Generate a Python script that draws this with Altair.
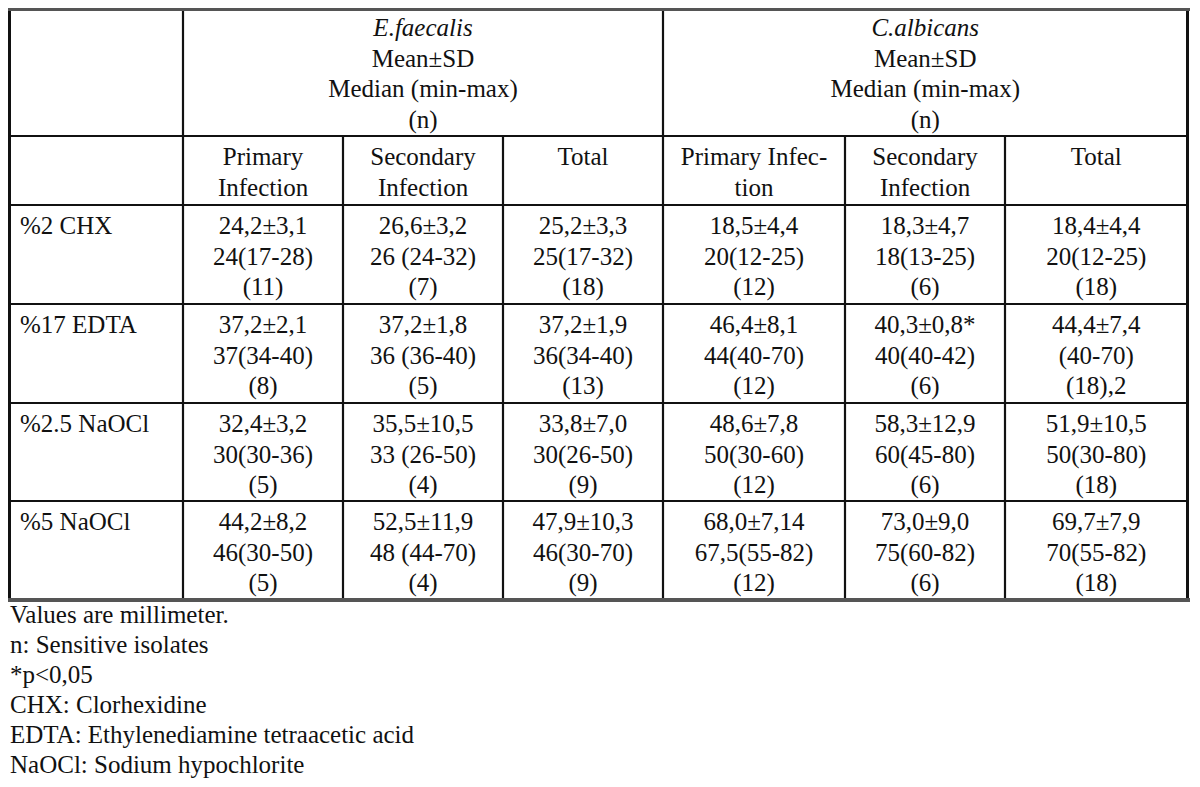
import altair as alt
import pandas as pd

# ---------------- data ----------------
species = ["E.faecalis", "C.albicans"]
header_stats = ["Mean±SD", "Median (min-max)", "(n)"]
sub_headers = [
    ["Primary", "Infection"],
    ["Secondary", "Infection"],
    ["Total"],
    ["Primary Infec-", "tion"],
    ["Secondary", "Infection"],
    ["Total"],
]
treatments = ["%2 CHX", "%17 EDTA", "%2.5 NaOCl", "%5 NaOCl"]
mean_sd = [
    ["24,2±3,1", "26,6±3,2", "25,2±3,3", "18,5±4,4", "18,3±4,7", "18,4±4,4"],
    ["37,2±2,1", "37,2±1,8", "37,2±1,9", "46,4±8,1", "40,3±0,8*", "44,4±7,4"],
    ["32,4±3,2", "35,5±10,5", "33,8±7,0", "48,6±7,8", "58,3±12,9", "51,9±10,5"],
    ["44,2±8,2", "52,5±11,9", "47,9±10,3", "68,0±7,14", "73,0±9,0", "69,7±7,9"],
]
median_range = [
    ["24(17-28)", "26 (24-32)", "25(17-32)", "20(12-25)", "18(13-25)", "20(12-25)"],
    ["37(34-40)", "36 (36-40)", "36(34-40)", "44(40-70)", "40(40-42)", "(40-70)"],
    ["30(30-36)", "33 (26-50)", "30(26-50)", "50(30-60)", "60(45-80)", "50(30-80)"],
    ["46(30-50)", "48 (44-70)", "46(30-70)", "67,5(55-82)", "75(60-82)", "70(55-82)"],
]
n_values = [
    ["(11)", "(7)", "(18)", "(12)", "(6)", "(18)"],
    ["(8)", "(5)", "(13)", "(12)", "(6)", "(18),2"],
    ["(5)", "(4)", "(9)", "(12)", "(6)", "(18)"],
    ["(5)", "(4)", "(9)", "(12)", "(6)", "(18)"],
]
footnotes = [
    "Values are millimeter.",
    "\u00a0n: Sensitive isolates",
    "*p<0,05",
    "CHX: Clorhexidine",
    "EDTA: Ethylenediamine tetraacetic acid",
    "NaOCl: Sodium hypochlorite",
]

# ---------------- layout (page pixel coordinates) ----------------
W, H = 1184, 771
X0, Y0 = 8, 8
col_edges = [9.5, 183, 343, 503, 663, 845, 1005, 1187.5]
top_y, head_y, sub_y = 7, 136, 205
row_tops = [205, 304, 403, 501]
bottom_y = 600
LH = 30.5
FIRST = 29
FONT = "Liberation Serif"
FS = 25
INK = "#111111"
GRAY = "#555555"

xs = alt.Scale(domain=[X0, X0 + W], nice=False, zero=False)
ys = alt.Scale(domain=[Y0 + H, Y0], nice=False, zero=False)

# ---------------- lines ----------------
lines = []
def seg(x1, y1, x2, y2, color, w):
    lines.append(dict(x=x1, y=y1, x2=x2, y2=y2, c=color, w=w))

for yy in [head_y, sub_y] + row_tops[1:]:
    seg(col_edges[0], yy, col_edges[-1], yy, INK, 2.2)
for xx in [col_edges[1], col_edges[4]]:
    seg(xx, top_y, xx, bottom_y, INK, 2.2)
for xx in [col_edges[2], col_edges[3], col_edges[5], col_edges[6]]:
    seg(xx, head_y, xx, bottom_y, INK, 2.2)
seg(col_edges[0], top_y, col_edges[0], bottom_y + 2, INK, 3)
seg(col_edges[-1], top_y, col_edges[-1], bottom_y + 2, INK, 3)
seg(8, 9.5, 1190, 9.5, GRAY, 3)
seg(8, bottom_y, 1190, bottom_y, GRAY, 4)
lines_df = pd.DataFrame(lines)

rules = alt.Chart(lines_df).mark_rule(strokeCap="butt").encode(
    x=alt.X("x:Q", scale=xs, axis=None),
    x2="x2:Q",
    y=alt.Y("y:Q", scale=ys, axis=None),
    y2="y2:Q",
    color=alt.Color("c:N", scale=None),
    strokeWidth=alt.StrokeWidth("w:Q", scale=None),
)

# ---------------- text ----------------
centers = [(col_edges[i] + col_edges[i + 1]) / 2 for i in range(1, 7)]
sp_centers = [(col_edges[1] + col_edges[4]) / 2, (col_edges[4] + col_edges[7]) / 2]

italic_rows, center_rows, left_rows = [], [], []
for sx, name in zip(sp_centers, species):
    italic_rows.append(dict(x=sx, y=top_y + FIRST, t=name))
    for k, s in enumerate(header_stats):
        center_rows.append(dict(x=sx, y=top_y + FIRST + LH * (k + 1), t=s))
for cx, parts in zip(centers, sub_headers):
    for k, s in enumerate(parts):
        center_rows.append(dict(x=cx, y=head_y + FIRST + LH * k, t=s))
for r, rt in enumerate(row_tops):
    left_rows.append(dict(x=20, y=rt + FIRST, t=treatments[r]))
    for c, cx in enumerate(centers):
        for k, s in enumerate([mean_sd[r][c], median_range[r][c], n_values[r][c]]):
            center_rows.append(dict(x=cx, y=rt + FIRST + LH * k, t=s))
for k, s in enumerate(footnotes):
    left_rows.append(dict(x=10, y=623 + 30 * k, t=s))

def text_layer(rows, align, style="normal"):
    return alt.Chart(pd.DataFrame(rows)).mark_text(
        align=align, baseline="alphabetic", font=FONT, fontSize=FS,
        fontStyle=style, color=INK,
    ).encode(
        x=alt.X("x:Q", scale=xs, axis=None),
        y=alt.Y("y:Q", scale=ys, axis=None),
        text="t:N",
    )

chart = alt.layer(
    rules,
    text_layer(center_rows, "center"),
    text_layer(italic_rows, "center", "italic"),
    text_layer(left_rows, "left"),
).properties(
    width=W, height=H, padding=0, background="white",
    autosize=alt.AutoSizeParams(type="none"),
).configure_view(stroke=None)

chart.save("out.html", embed_options={"renderer": "svg", "actions": False})
